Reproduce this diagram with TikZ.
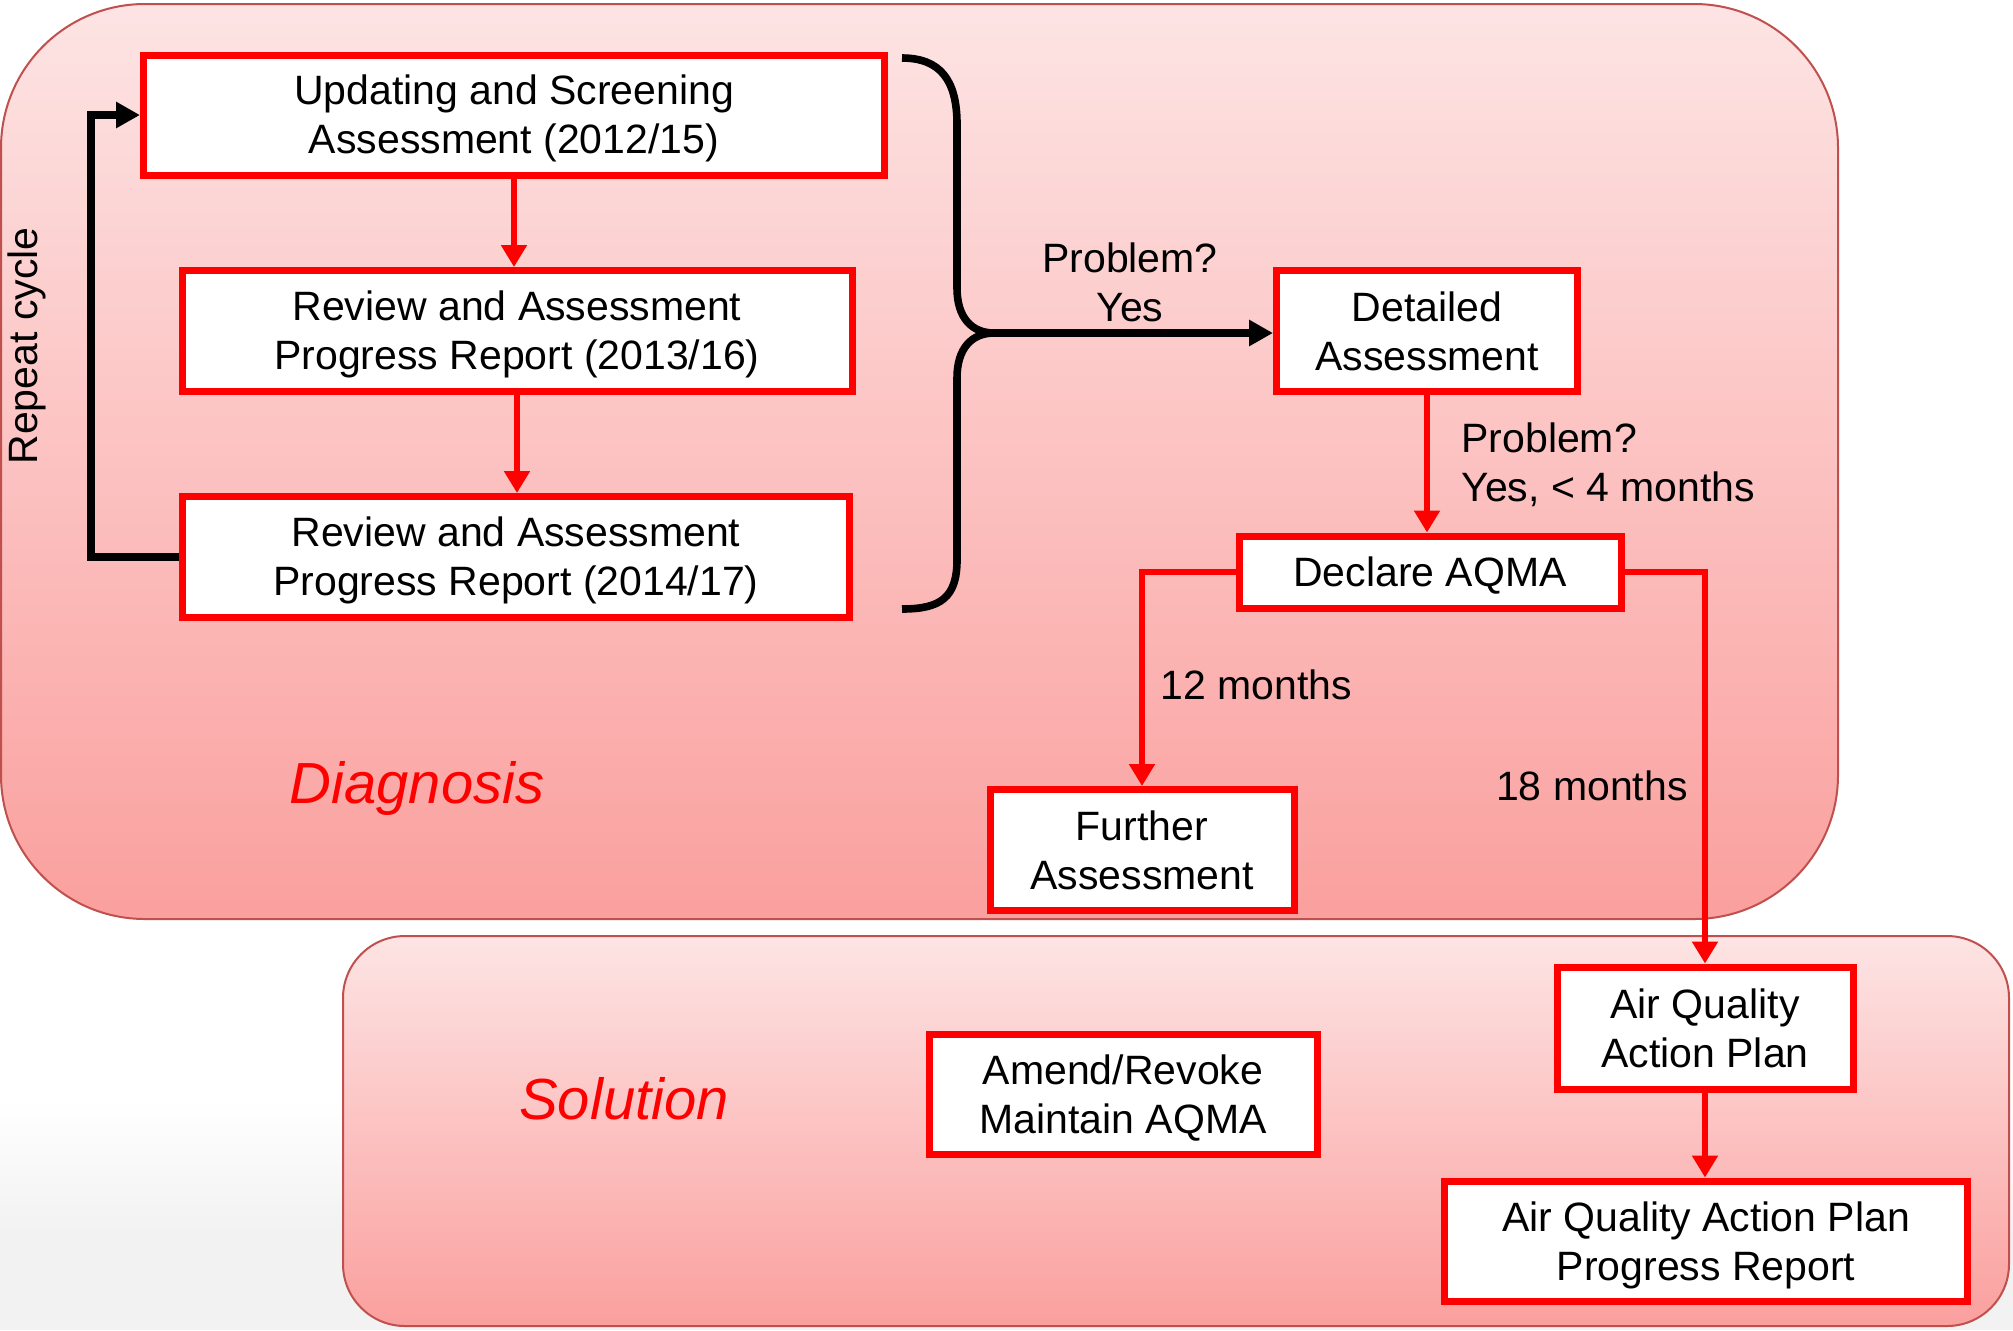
\documentclass[tikz,border=0pt]{standalone}
\usepackage{fontspec}
\setmainfont{Liberation Sans}
\usetikzlibrary{arrows.meta}
\definecolor{boxred}{RGB}{255,0,0}
\definecolor{framered}{RGB}{192,80,77}
\definecolor{pinktop}{RGB}{253,228,228}
\definecolor{pinkbot}{RGB}{250,160,158}
\definecolor{bggray}{RGB}{242,242,242}
\newcommand{\mainsize}{\fontsize{20.5}{24.4}\selectfont}
\newcommand{\bigsize}{\fontsize{29}{34}\selectfont}
\tikzset{
  stagebox/.style={draw=boxred, line width=3.5pt, fill=white, font=\mainsize, align=center, inner sep=0pt},
  redarrow/.style={draw=boxred, line width=2.6pt, -{Triangle[width=12.5pt,length=11pt]}},
  blackarrow/.style={draw=black, line width=3.8pt, line join=miter, -{Triangle[width=12.5pt,length=12pt]}},
  blackline/.style={draw=black, line width=3.8pt},
  lbl/.style={font=\mainsize, inner sep=0pt},
  region/.style={draw=framered, line width=1pt, top color=pinktop, bottom color=pinkbot},
  regionlabel/.style={font=\bigsize\itshape, text=boxred, inner sep=0pt}
}
\begin{document}
\begin{tikzpicture}[x=0.5pt,y=-0.5pt]
\useasboundingbox (0,0) rectangle (2013,1330);
% background
\fill[white] (0,0) rectangle (2013,1330);
\shade[top color=white, bottom color=bggray] (0,1100) rectangle (2013,1230);
\fill[bggray] (0,1230) rectangle (2013,1330);
% regions
\path[region, rounded corners=72pt] (1,4) rectangle (1838,919);
\path[region, rounded corners=31pt] (343,936) rectangle (2009,1326);
\node[regionlabel] (diag) at (417,788) {Diagnosis};
\node[regionlabel] (sol) at (624,1099) {Solution};
% boxes
\node[stagebox, minimum width=370.5pt, minimum height=60pt, text depth=0.5pt] (upd) at (514,115) {Updating and Screening\\Assessment (2012/15)};
\node[stagebox, minimum width=335pt, minimum height=60.5pt, text depth=0.5pt] (rev1) at (517,331) {Review and Assessment\\Progress Report (2013/16)};
\node[stagebox, minimum width=333.5pt, minimum height=60.5pt, text depth=0.5pt] (rev2) at (516,557) {Review and Assessment\\Progress Report (2014/17)};
\node[stagebox, minimum width=150.5pt, minimum height=60.5pt] (det) at (1427,331) {Detailed\\Assessment};
\node[stagebox, minimum width=191pt, minimum height=36pt, text depth=-3.8pt] (dec) at (1430,572) {Declare AQMA};
\node[stagebox, minimum width=152pt, minimum height=60.5pt, text depth=-1.9pt] (fur) at (1142,850) {Further\\Assessment};
\node[stagebox, minimum width=148pt, minimum height=61pt, text depth=-1.9pt] (aqap) at (1705,1028) {Air Quality\\Action Plan};
\node[stagebox, minimum width=261.5pt, minimum height=60pt, text depth=-0.8pt] (aqpr) at (1706,1241) {Air Quality Action Plan\\Progress Report};
\node[stagebox, minimum width=194pt, minimum height=60pt, text depth=-3.8pt] (amd) at (1123,1094) {Amend/Revoke\\Maintain AQMA};
% red arrows
\draw[redarrow] (upd.south) -- (upd.south |- rev1.north);
\draw[redarrow] (rev1.south) -- (rev1.south |- rev2.north);
\draw[redarrow] (det.south) -- (det.south |- dec.north);
\draw[redarrow] (dec.west) -| (fur.north);
\draw[redarrow] (dec.east) -| (aqap.north);
\draw[redarrow] (aqap.south) -- (aqap.south |- aqpr.north);
% repeat loop
\coordinate (loopx) at (91,0);
\draw[blackarrow] (rev2.west) -- (rev2.west -| loopx) |- (upd.west);
\node[lbl, rotate=90] (rep) at (27,346) {Repeat cycle};
% brace
\coordinate (bracetip) at (994,333);
\draw[blackline] (902,58) .. controls (940,58) and (957,80) .. (957,124) -- (957,288)
  .. controls (957,318) and (972,333) .. (bracetip)
  .. controls (972,333) and (957,348) .. (957,378) -- (957,560)
  .. controls (957,598) and (940,609) .. (902,609);
\draw[blackarrow] (bracetip) -- (bracetip -| det.west);
% labels
\node[lbl, align=center] (p1) at (1130,282) {Problem?\\Yes};
\node[lbl, align=left, anchor=west] (p2) at (1461,465) {Problem?\\Yes, < 4 months};
\node[lbl, anchor=west] (m12) at (1160,685) {12 months};
\node[lbl, anchor=east] (m18) at (1688,786) {18 months};
\end{tikzpicture}
\end{document}
